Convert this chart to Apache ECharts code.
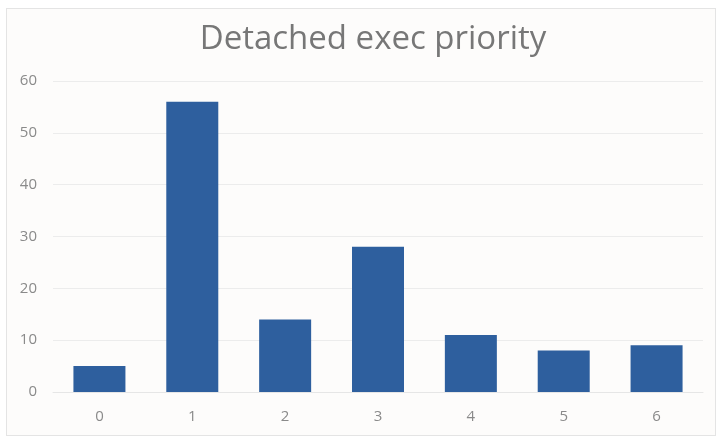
<!DOCTYPE html>
<html>
<head>
<meta charset="utf-8">
<script src="https://cdn.jsdelivr.net/npm/echarts@6/dist/echarts.min.js"></script>
<style>
  html, body { margin: 0; padding: 0; background: #ffffff; }
  #frame { position: absolute; left: 6px; top: 8px; width: 708px; height: 426px;
           border: 1px solid #e4e4e4; background: #fdfcfb; }
  #chart { position: absolute; left: 0; top: 0; width: 721px; height: 439px; }
</style>
</head>
<body>
<div id="frame"></div>
<div id="chart"></div>
<script>
const titleText = "Detached exec priority";
const categories = ["0", "1", "2", "3", "4", "5", "6"];
const counts = [5, 56, 14, 28, 11, 8, 9];
const yTicks = { min: 0, max: 60, interval: 10 };

const chart = echarts.init(document.getElementById('chart'));
chart.setOption({
  backgroundColor: 'transparent',
  animation: false,
  title: {
    text: titleText,
    left: 368,
    textAlign: 'center',
    top: 18,
    textStyle: { fontFamily: 'Open Sans', fontSize: 33, fontWeight: 'normal', color: '#777777' }
  },
  grid: { left: 53, right: 18, top: 81, bottom: 47 },
  xAxis: {
    type: 'category',
    data: categories,
    axisLine: { lineStyle: { color: '#e6e6e6' } },
    axisTick: { show: false },
    axisLabel: { color: '#8a8a8a', fontFamily: 'Open Sans', fontSize: 15, margin: 17 }
  },
  yAxis: {
    type: 'value',
    min: yTicks.min, max: yTicks.max, interval: yTicks.interval,
    axisLine: { show: false },
    axisTick: { show: false },
    splitLine: { lineStyle: { color: '#ececec' } },
    axisLabel: { color: '#8a8a8a', fontFamily: 'Open Sans', fontSize: 15, margin: 16 }
  },
  series: [{
    type: 'bar',
    data: counts,
    barCategoryGap: '44%',
    itemStyle: { color: '#2e5f9e' }
  }]
});
</script>
</body>
</html>
